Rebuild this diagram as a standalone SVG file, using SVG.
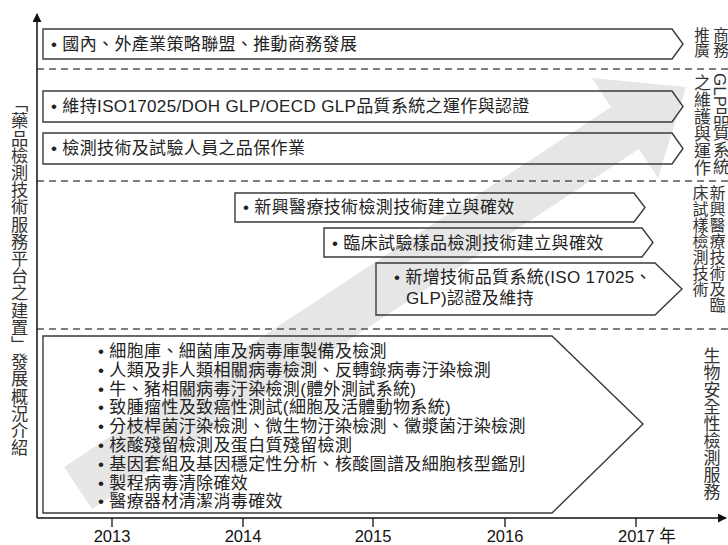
<svg xmlns="http://www.w3.org/2000/svg" width="728" height="545" viewBox="0 0 728 545">
<defs>
<style>
.bg{fill:#e6e6e6;stroke:none}
.box{fill:none;stroke:#3a3a3a;stroke-width:1.4;stroke-linejoin:miter}
.dash{stroke:#555;stroke-width:1.5;stroke-dasharray:7 5;fill:none}
.axis{stroke:#111;stroke-width:1.5;fill:none}
.tick{stroke:#111;stroke-width:1.3}
.t{font-family:"Liberation Sans","Noto Sans CJK TC",sans-serif;font-size:17px;letter-spacing:0.35px;fill:#222}
.yr{font-family:"Liberation Sans","Noto Sans CJK TC",sans-serif;font-size:16.5px;fill:#111}
.v{font-family:"Liberation Sans","Noto Sans CJK TC",sans-serif;writing-mode:vertical-rl;fill:#333}
</style>
<marker id="ah" viewBox="0 0 10 10" refX="9" refY="5" markerWidth="9" markerHeight="9" markerUnits="userSpaceOnUse" orient="auto">
<path d="M0,0 L10,5 L0,10 Z" fill="#111"/>
</marker>
</defs>
<rect width="728" height="545" fill="#fff"/>
<polygon class="bg" points="64,467 611,107 592,78 686,87 658,178 639,149 92,509"/>
<g id="connectors">
<line class="dash" x1="37" y1="69" x2="728" y2="69"/>
<line class="dash" x1="37" y1="181" x2="728" y2="181"/>
<line class="dash" x1="37" y1="329" x2="728" y2="329"/>
<path class="axis" d="M37,518 V14" marker-end="url(#ah)"/>
<path class="axis" d="M37,518 H726" marker-end="url(#ah)"/>
<line class="tick" x1="112" y1="518" x2="112" y2="527"/>
<line class="tick" x1="243" y1="518" x2="243" y2="527"/>
<line class="tick" x1="373" y1="518" x2="373" y2="527"/>
<line class="tick" x1="505" y1="518" x2="505" y2="527"/>
<line class="tick" x1="636" y1="518" x2="636" y2="527"/>
</g>
<g id="axis-labels">
<text class="yr" x="112" y="542" text-anchor="middle">2013</text>
<text class="yr" x="243" y="542" text-anchor="middle">2014</text>
<text class="yr" x="373" y="542" text-anchor="middle">2015</text>
<text class="yr" x="505" y="542" text-anchor="middle">2016</text>
<text class="yr" x="618" y="542">2017 年</text>
<text class="v" x="18" y="95" style="font-size:17.2px">「藥品檢測技術服務平台之建置」發展概況介紹</text>
</g>
<g id="node-b1">
<polygon class="box" points="43,29 672,29 683,44 672,59 43,59"/>
<text class="t" x="51" y="50">• 國內、外產業策略聯盟、推動商務發展</text>
</g>
<g id="node-b2">
<polygon class="box" points="43,91 672,91 683,106.5 672,122 43,122"/>
<text class="t" x="51" y="112">• 維持ISO17025/DOH GLP/OECD GLP品質系統之運作與認證</text>
</g>
<g id="node-b3">
<polygon class="box" points="43,133 672,133 683,148.5 672,164 43,164"/>
<text class="t" x="51" y="154">• 檢測技術及試驗人員之品保作業</text>
</g>
<g id="node-ba">
<polygon class="box" points="235,193 634,193 645,207.5 634,222 235,222"/>
<text class="t" x="243" y="213">• 新興醫療技術檢測技術建立與確效</text>
</g>
<g id="node-bb">
<polygon class="box" points="324,228 642,228 653,242.5 642,257 324,257"/>
<text class="t" x="332" y="248.5">• 臨床試驗樣品檢測技術建立與確效</text>
</g>
<g id="node-bc">
<polygon class="box" points="376,263 655,263 682,289 655,315 376,315"/>
<text class="t" x="394" y="283">• 新增技術品質系統(ISO 17025、<tspan x="406" y="304">GLP)認證及維持</tspan></text>
</g>
<g id="node-bottom">
<polygon class="box" points="43,336 552,336 643,424 552,513 43,513"/>
<text class="t" x="98" y="357">• 細胞庫、細菌庫及病毒庫製備及檢測</text>
<text class="t" x="98" y="375.8">• 人類及非人類相關病毒檢測、反轉錄病毒汙染檢測</text>
<text class="t" x="98" y="394.6">• 牛、豬相關病毒汙染檢測(體外測試系統)</text>
<text class="t" x="98" y="413.4">• 致腫瘤性及致癌性測試(細胞及活體動物系統)</text>
<text class="t" x="98" y="432.2">• 分枝桿菌汙染檢測、微生物汙染檢測、黴漿菌汙染檢測</text>
<text class="t" x="98" y="451">• 核酸殘留檢測及蛋白質殘留檢測</text>
<text class="t" x="98" y="469.8">• 基因套組及基因穩定性分析、核酸圖譜及細胞核型鑑別</text>
<text class="t" x="98" y="488.6">• 製程病毒清除確效</text>
<text class="t" x="98" y="507.4">• 醫療器材清潔消毒確效</text>
</g>
<g id="label-1">
<text class="v" style="font-size:15.5px"><tspan x="719.5" y="27">商務</tspan><tspan x="700.5" y="27">推廣</tspan></text>
</g>
<g id="label-2">
<text class="v" style="font-size:17px"><tspan x="719.5" y="73">GLP品質系統</tspan><tspan x="700.5" y="74">之維護與運作</tspan></text>
</g>
<g id="label-3">
<text class="v" style="font-size:16px"><tspan x="716" y="185">新興醫療技術及臨</tspan><tspan x="699" y="185">床試樣檢測技術</tspan></text>
</g>
<g id="label-4">
<text class="v" style="font-size:17px"><tspan x="710" y="347">生物安全性檢測服務</tspan></text>
</g>
</svg>
